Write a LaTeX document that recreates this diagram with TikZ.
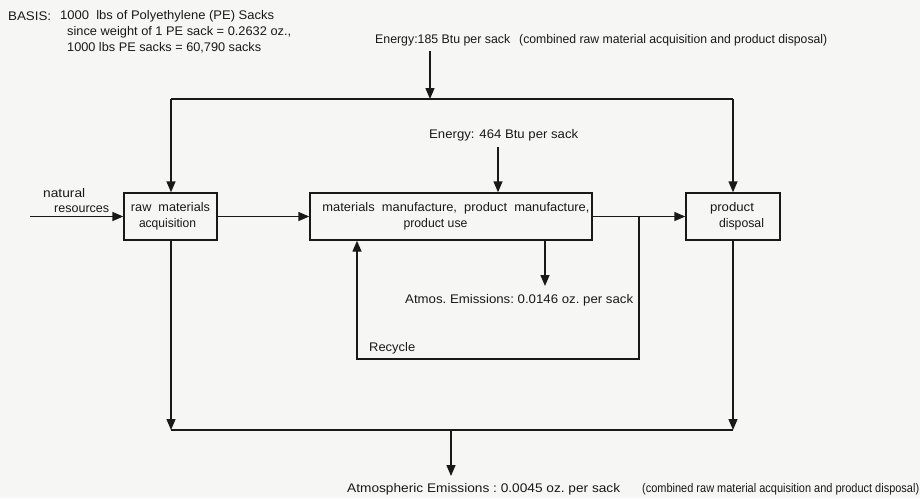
\documentclass[tikz,border=0pt]{standalone}
\usepackage{fontspec}
\usepackage{graphicx}
\setmainfont{Liberation Sans}
\usetikzlibrary{arrows.meta}
\newcommand{\fitto}[2]{\resizebox{#1}{\height}{#2}}
\definecolor{ink}{RGB}{25,25,25}
\definecolor{paper}{RGB}{246,246,244}
\tikzset{
  lbl/.style={anchor=west, inner sep=0pt, text=ink, font=\fontsize{12.5}{16}\selectfont},
  boxnode/.style={draw=ink, line width=1.4pt, inner sep=0pt, align=center, text=ink,
    font=\fontsize{12.5}{16}\selectfont},
  conn/.style={draw=ink, line width=1.4pt},
  arr/.style={conn, -{Triangle[length=11pt,width=9pt]}}
}
\begin{document}
\begin{tikzpicture}[x=1pt,y=-1pt]
\useasboundingbox[fill=paper] (0,0) rectangle (920,498);

% basis text
\node[lbl] (basisA) at (8,16) {\fitto{43pt}{BASIS:}};
\node[lbl] (basisB) at (60,16) {\fitto{214pt}{1000\ \ lbs of Polyethylene (PE) Sacks}};
\node[lbl] (basisC) at (67,32) {\fitto{224pt}{since weight of 1 PE sack = 0.2632 oz.,}};
\node[lbl] (basisD) at (67,48) {\fitto{194pt}{1000 lbs PE sacks = 60,790 sacks}};

% energy top
\node[lbl] (eTopA) at (375,40) {\fitto{135pt}{Energy:185\ Btu\ per\ sack}};
\node[lbl] (eTopB) at (519,40) {\fitto{308pt}{(combined raw material acquisition and product disposal)}};

% boxes
\node[boxnode, minimum width=93pt, minimum height=47pt] (raw) at (170.5,216.5)
  {\fitto{79pt}{raw\ \ materials}\\\hspace*{-6pt}\fitto{57pt}{acquisition}};
\node[boxnode, minimum width=282pt, minimum height=47pt] (mfg) at (451,216.5)
  {\hspace*{10pt}\fitto{267pt}{materials\ \ manufacture,\ \ product\ \ manufacture,}\\\hspace*{-31pt}\fitto{64pt}{product use}};
\node[boxnode, minimum width=94pt, minimum height=47pt] (disp) at (733,216.5)
  {\hspace*{-2pt}\fitto{44pt}{product}\\\hspace*{17pt}\fitto{45pt}{disposal}};

% natural resources
\node[lbl] (natA) at (43,193) {\fitto{42pt}{natural}};
\node[lbl] (natB) at (54,209) {\fitto{55pt}{resources}};
\coordinate (natS) at (30,216.5);
\draw[arr] (natS) -- (raw.west);

% top distribution
\coordinate (eTopS) at (430,51);
\coordinate (eTopE) at (430,99);
\coordinate (tl) at (171,99);
\coordinate (tr) at (733,99);
\draw[conn] (tl) -- (tr);
\draw[arr] (eTopS) -- (eTopE);
\draw[arr] (tl) -- (tl |- raw.north);
\draw[arr] (tr) -- (disp.north);

% middle energy
\node[lbl] (eMid) at (429,135) {\fitto{149pt}{Energy: 464 Btu per sack}};
\coordinate (eMidS) at (498,147);
\draw[arr] (eMidS) -- (eMidS |- mfg.north);

% main flow
\draw[arr] (raw.east) -- (mfg.west);
\draw[arr] (mfg.east) -- (disp.west);

% emissions from mfg
\coordinate (emS) at (545,240);
\coordinate (emE) at (545,286);
\draw[arr] (emS) -- (emE);
\node[lbl] (emT) at (405,300) {\fitto{228pt}{Atmos.\ Emissions:\ 0.0146\ oz.\ per\ sack}};

% recycle loop
\coordinate (rcS) at (639,216.5);
\coordinate (rc1) at (639,359);
\coordinate (rc2) at (357,359);
\draw[arr] (rcS) -- (rc1) -- (rc2) -- (rc2 |- mfg.south);
\node[lbl] (rcT) at (369,348) {\fitto{46pt}{Recycle}};

% bottom collection
\coordinate (bl) at (171,430);
\coordinate (br) at (733,430);
\coordinate (bm) at (451,430);
\coordinate (bmE) at (451,476);
\draw[conn] (bl) -- (br);
\draw[arr] (raw.south -| bl) -- (bl);
\draw[arr] (disp.south) -- (br);
\draw[arr] (bm) -- (bmE);
\node[lbl] (botA) at (347,489) {\fitto{273pt}{Atmospheric\ Emissions\ :\ 0.0045\ oz.\ per\ sack}};
\node[lbl] (botB) at (642,489) {\fitto{277pt}{(combined raw material acquisition and product disposal)}};
\end{tikzpicture}
\end{document}
